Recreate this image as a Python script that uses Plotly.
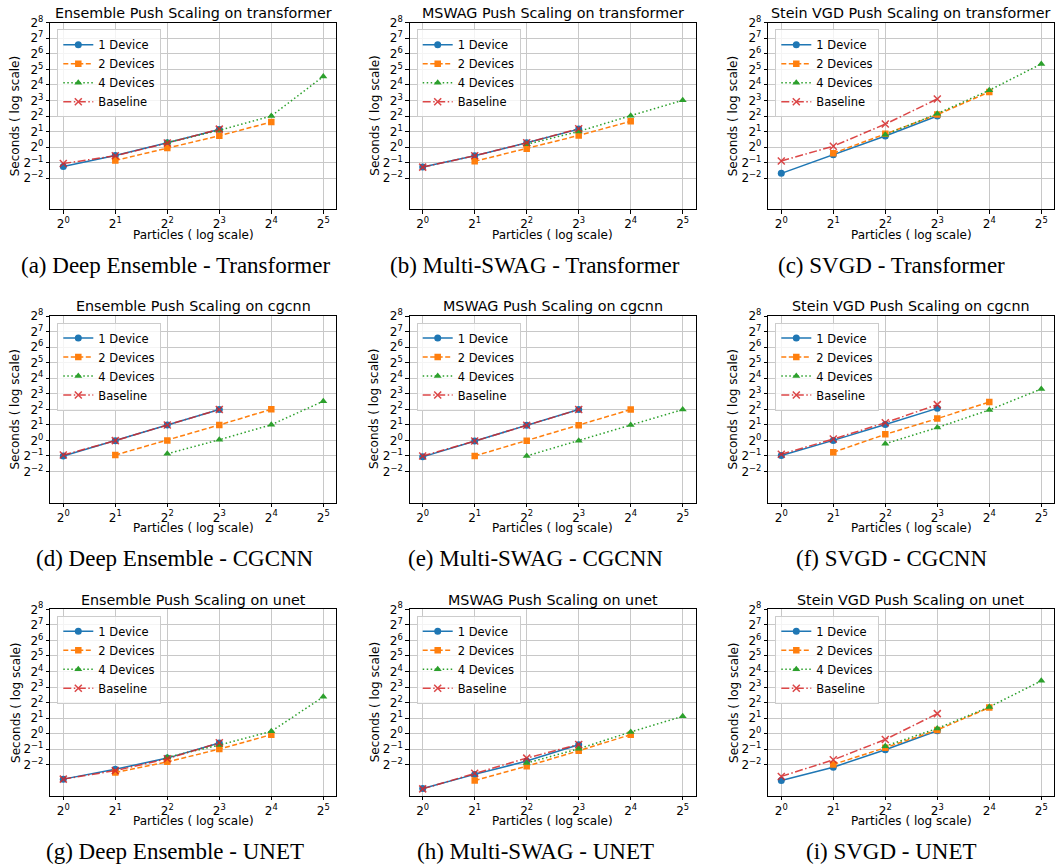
import math
import plotly.graph_objects as go

# ---------------- data (seconds) ----------------
particles_one = [1, 2, 4, 8]
particles_two = [2, 4, 8, 16]
particles_four = [4, 8, 16, 32]

# (a) Deep Ensemble - Transformer
ens_tr_one = [0.42, 0.69, 1.21, 2.20]
ens_tr_two = [0.55, 0.96, 1.66, 3.05]
ens_tr_four = [1.23, 2.11, 4.00, 23.3]
ens_tr_base = [0.48, 0.68, 1.20, 2.23]
# (b) Multi-SWAG - Transformer
msw_tr_one = [0.41, 0.68, 1.21, 2.23]
msw_tr_two = [0.53, 0.93, 1.68, 3.16]
msw_tr_four = [1.13, 2.01, 4.06, 8.06]
msw_tr_base = [0.41, 0.68, 1.21, 2.27]
# (c) SVGD - Transformer
svg_tr_one = [0.31, 0.71, 1.64, 4.00]
svg_tr_two = [0.76, 1.82, 4.26, 11.7]
svg_tr_four = [1.74, 4.44, 12.6, 40.8]
svg_tr_base = [0.54, 1.04, 2.79, 8.57]
# (d) Deep Ensemble - CGCNN
ens_cg_one = [0.50, 0.99, 1.99, 3.95]
ens_cg_two = [0.52, 1.00, 1.99, 4.00]
ens_cg_four = [0.55, 1.03, 2.01, 5.74]
ens_cg_base = [0.52, 0.99, 1.99, 3.95]
# (e) Multi-SWAG - CGCNN
msw_cg_one = [0.48, 0.97, 1.96, 3.95]
msw_cg_two = [0.50, 0.99, 1.96, 3.95]
msw_cg_four = [0.50, 0.99, 1.99, 3.95]
msw_cg_base = [0.50, 0.97, 1.96, 3.95]
# (f) SVGD - CGCNN
svg_cg_one = [0.51, 1.00, 2.04, 4.17]
svg_cg_two = [0.59, 1.31, 2.64, 5.54]
svg_cg_four = [0.86, 1.77, 3.89, 9.92]
svg_cg_base = [0.54, 1.06, 2.20, 4.93]
# (g) Deep Ensemble - UNET
ens_un_one = [0.132, 0.206, 0.337, 0.660]
ens_un_two = [0.178, 0.285, 0.503, 0.959]
ens_un_four = [0.351, 0.603, 1.110, 5.17]
ens_un_base = [0.132, 0.193, 0.328, 0.669]
# (h) Multi-SWAG - UNET
msw_un_one = [0.0866, 0.163, 0.295, 0.611]
msw_un_two = [0.124, 0.235, 0.467, 0.959]
msw_un_four = [0.270, 0.511, 1.079, 2.173]
msw_un_base = [0.0854, 0.172, 0.337, 0.620]
# (i) SVGD - UNET
svg_un_one = [0.124, 0.225, 0.490, 1.141]
svg_un_two = [0.254, 0.536, 1.181, 3.204]
svg_un_four = [0.574, 1.266, 3.294, 10.56]
svg_un_base = [0.149, 0.312, 0.774, 2.445]

titles = [
    "Ensemble Push Scaling on transformer", "MSWAG Push Scaling on transformer", "Stein VGD Push Scaling on transformer",
    "Ensemble Push Scaling on cgcnn", "MSWAG Push Scaling on cgcnn", "Stein VGD Push Scaling on cgcnn",
    "Ensemble Push Scaling on unet", "MSWAG Push Scaling on unet", "Stein VGD Push Scaling on unet",
]
captions = [
    "(a) Deep Ensemble - Transformer", "(b) Multi-SWAG - Transformer", "(c) SVGD - Transformer",
    "(d) Deep Ensemble - CGCNN", "(e) Multi-SWAG - CGCNN", "(f) SVGD - CGCNN",
    "(g) Deep Ensemble - UNET", "(h) Multi-SWAG - UNET", "(i) SVGD - UNET",
]
series_names = ["1 Device", "2 Devices", "4 Devices", "Baseline"]
x_tickvals = [1, 2, 4, 8, 16, 32]
x_ticktext = ["2<sup>0</sup>", "2<sup>1</sup>", "2<sup>2</sup>", "2<sup>3</sup>", "2<sup>4</sup>", "2<sup>5</sup>"]
y_tickvals = [0.25, 0.5, 1, 2, 4, 8, 16, 32, 64, 128, 256]
y_ticktext = ["2<sup>\u22122</sup>", "2<sup>\u22121</sup>", "2<sup>0</sup>", "2<sup>1</sup>", "2<sup>2</sup>",
              "2<sup>3</sup>", "2<sup>4</sup>", "2<sup>5</sup>", "2<sup>6</sup>", "2<sup>7</sup>", "2<sup>8</sup>"]

panels = [
    (ens_tr_one, ens_tr_two, ens_tr_four, ens_tr_base),
    (msw_tr_one, msw_tr_two, msw_tr_four, msw_tr_base),
    (svg_tr_one, svg_tr_two, svg_tr_four, svg_tr_base),
    (ens_cg_one, ens_cg_two, ens_cg_four, ens_cg_base),
    (msw_cg_one, msw_cg_two, msw_cg_four, msw_cg_base),
    (svg_cg_one, svg_cg_two, svg_cg_four, svg_cg_base),
    (ens_un_one, ens_un_two, ens_un_four, ens_un_base),
    (msw_un_one, msw_un_two, msw_un_four, msw_un_base),
    (svg_un_one, svg_un_two, svg_un_four, svg_un_base),
]

# ---------------- styling ----------------
W, H = 1055, 865
COLORS = ["#1f77b4", "#ff7f0e", "#2ca02c", "#d62728"]
DASHES = ["solid", "5px,2.5px", "1.5px,2.5px", "8px,2.5px,1.5px,2.5px"]
SYMBOLS = ["circle", "square", "triangle-up", "x-thin"]
SIZES = [7, 6.5, 7, 7]
XS = [particles_one, particles_two, particles_four, particles_one]
FONT = "DejaVu Sans"
SERIF = "Liberation Serif"

col_left = [50.3, 409.7, 768.3]
col_w = 286.0
row_top = [22.7, 316.0, 609.3]
row_h = 186.6
caption_x = [175, 535, 891]

LOG2 = math.log10(2)

def px_x(v):
    return v / W

def px_y(v):
    return 1 - v / H

fig = go.Figure()
layout = dict(
    width=W, height=H,
    margin=dict(l=0, r=0, t=0, b=0, pad=0, autoexpand=False),
    paper_bgcolor="white", plot_bgcolor="white",
    font=dict(family=FONT, size=12, color="#000000"),
    annotations=[],
    showlegend=True,
)

for i, data in enumerate(panels):
    r, c = divmod(i, 3)
    k = i + 1
    xa = "x" if k == 1 else f"x{k}"
    ya = "y" if k == 1 else f"y{k}"
    lg = "legend" if k == 1 else f"legend{k}"
    for s in range(4):
        is_x = SYMBOLS[s] == "x-thin"
        fig.add_trace(go.Scatter(
            x=XS[s], y=data[s], name=series_names[s], mode="lines+markers",
            xaxis=xa, yaxis=ya, legend=lg,
            opacity=0.85 if s == 3 else 1.0,
            line=dict(color=COLORS[s], width=1.5, dash=DASHES[s]),
            marker=dict(symbol=SYMBOLS[s], size=SIZES[s], color=COLORS[s],
                        line=dict(color=COLORS[s], width=1.5 if is_x else 0)),
        ))
    x0, x1 = col_left[c], col_left[c] + col_w
    y0, y1 = row_top[r], row_top[r] + row_h
    axis_common = dict(
        type="log", showline=True, linecolor="#000000", linewidth=1, mirror=True,
        ticks="outside", ticklen=3.5, tickwidth=1, tickcolor="#000000",
        showgrid=True, gridcolor="#c8c8c8", gridwidth=1.2, zeroline=False,
        tickfont=dict(family=FONT, size=12, color="#000000"),
        automargin=False,
    )
    layout["xaxis" if k == 1 else f"xaxis{k}"] = dict(
        axis_common, domain=[px_x(x0), px_x(x1)], anchor=ya,
        range=[-0.25 * LOG2, 5.25 * LOG2], tickvals=x_tickvals, ticktext=x_ticktext,
    )
    layout["yaxis" if k == 1 else f"yaxis{k}"] = dict(
        axis_common, domain=[px_y(y1), px_y(y0)], anchor=xa,
        range=[-4 * LOG2, 8 * LOG2], tickvals=y_tickvals, ticktext=y_ticktext,
    )
    layout[lg] = dict(
        x=px_x(x0 + 7), y=px_y(y0 + 6.5), xanchor="left", yanchor="top",
        xref="paper", yref="paper",
        bgcolor="rgba(255,255,255,0.8)", bordercolor="#cccccc", borderwidth=1,
        font=dict(family=FONT, size=11.5, color="#000000"),
        itemwidth=30, tracegroupgap=0,
    )
    cx = (x0 + x1) / 2
    layout["annotations"] += [
        dict(text=titles[i], x=px_x(cx), y=px_y(y0 - 9.5), xref="paper", yref="paper",
             xanchor="center", yanchor="middle", showarrow=False,
             font=dict(family=FONT, size=14.3, color="#000000")),
        dict(text="Particles ( log scale)", x=px_x(cx), y=px_y(y1 + 25.5), xref="paper", yref="paper",
             xanchor="center", yanchor="middle", showarrow=False,
             font=dict(family=FONT, size=12, color="#000000")),
        dict(text="Seconds ( log scale)", x=px_x(x0 - 35), y=px_y((y0 + y1) / 2), xref="paper", yref="paper",
             xanchor="center", yanchor="middle", showarrow=False, textangle=-90,
             font=dict(family=FONT, size=12, color="#000000")),
        dict(text=captions[i], x=px_x(caption_x[c]), y=px_y(y1 + 56), xref="paper", yref="paper",
             xanchor="center", yanchor="middle", showarrow=False,
             font=dict(family=SERIF, size=23, color="#000000")),
    ]

fig.update_layout(**layout)
fig.write_html(
    "out.html",
    config={"displayModeBar": False},
    post_script="document.body.style.margin='0';document.body.style.overflow='hidden';",
)
